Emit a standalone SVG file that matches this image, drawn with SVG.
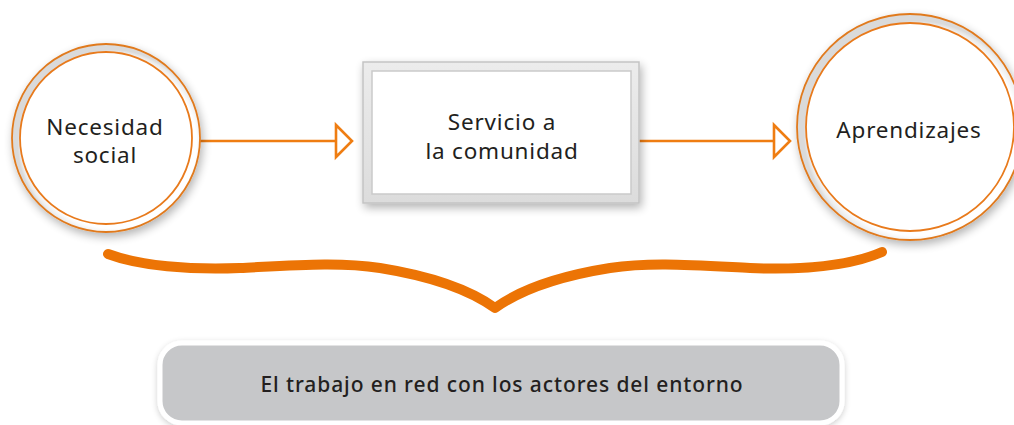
<svg xmlns="http://www.w3.org/2000/svg" width="1014" height="425" viewBox="0 0 1014 425">
<style>
.lbl{font-family:"Noto Sans","Liberation Sans",sans-serif;font-size:22.5px;letter-spacing:0.8px;fill:#231f20;text-anchor:middle}
.ring{fill:url(#ringg);stroke:#e07a1f;stroke-width:1.8}
.inner{fill:#fff;stroke:#e87a1c;stroke-width:1.8}
.conn{fill:none;stroke:#ef7d12;stroke-width:2.6}
</style>
<defs>
<filter id="sh" x="-20%" y="-20%" width="140%" height="140%">
<feGaussianBlur in="SourceAlpha" stdDeviation="5"/>
<feOffset dx="2" dy="4"/>
<feComponentTransfer><feFuncA type="linear" slope="0.3"/></feComponentTransfer>
<feMerge><feMergeNode/><feMergeNode in="SourceGraphic"/></feMerge>
</filter>
<filter id="sh2" x="-10%" y="-30%" width="120%" height="160%">
<feGaussianBlur in="SourceAlpha" stdDeviation="3"/>
<feOffset dx="0" dy="2"/>
<feComponentTransfer><feFuncA type="linear" slope="0.2"/></feComponentTransfer>
<feMerge><feMergeNode/><feMergeNode in="SourceGraphic"/></feMerge>
</filter>
<radialGradient id="ringg" cx="0.53" cy="0.53" r="0.5">
<stop offset="0.9" stop-color="#ffffff"/>
<stop offset="0.97" stop-color="#ececec"/>
<stop offset="1" stop-color="#dadada"/>
</radialGradient>
<linearGradient id="boxg" x1="0" y1="0" x2="0" y2="1">
<stop offset="0" stop-color="#ececec"/>
<stop offset="1" stop-color="#dcdcdc"/>
</linearGradient>
</defs>

<g id="connectors">
<line class="conn" x1="200" y1="141" x2="336" y2="141"/>
<polygon class="conn" points="336,125 352,141 336,157"/>
<line class="conn" x1="639" y1="141" x2="774" y2="141"/>
<polygon class="conn" points="774,125 790,141 774,157"/>
<path id="brace" d="M108,254 C140,266 190,270 240,268 C300,265 340,262 380,268 C430,276 470,290 495,308 C520,290 560,276 610,268 C650,262 690,265 750,268 C800,270 850,266 882,252" fill="none" stroke="#ec7405" stroke-width="10" stroke-linecap="round" stroke-linejoin="round"/>
</g>

<g id="node-necesidad">
<circle class="ring" cx="106" cy="138" r="94" filter="url(#sh)"/>
<circle class="inner" cx="106" cy="138" r="86"/>
<text class="lbl" x="105" y="135">Necesidad</text>
<text class="lbl" x="105" y="163">social</text>
</g>

<g id="node-servicio">
<rect x="363" y="62" width="276" height="141" fill="url(#boxg)" stroke="#c4c4c4" stroke-width="1.5" filter="url(#sh)"/>
<rect x="372" y="71" width="259" height="123" fill="#fff" stroke="#cacaca" stroke-width="1.5"/>
<text class="lbl" x="502" y="130">Servicio a</text>
<text class="lbl" x="502" y="159">la comunidad</text>
</g>

<g id="node-aprendizajes">
<circle class="ring" cx="910" cy="127" r="113" filter="url(#sh)"/>
<circle class="inner" cx="910" cy="127" r="104"/>
<text class="lbl" x="909" y="138">Aprendizajes</text>
</g>

<g id="node-trabajo">
<rect x="160" y="343" width="682" height="80" rx="22" fill="#c6c7c9" stroke="#fff" stroke-width="5" filter="url(#sh2)"/>
<text x="502" y="392" style="font-family:'Noto Sans','Liberation Sans',sans-serif;font-size:21px;letter-spacing:0.9px;font-weight:500;fill:#231f20;text-anchor:middle">El trabajo en red con los actores del entorno</text>
</g>
</svg>
